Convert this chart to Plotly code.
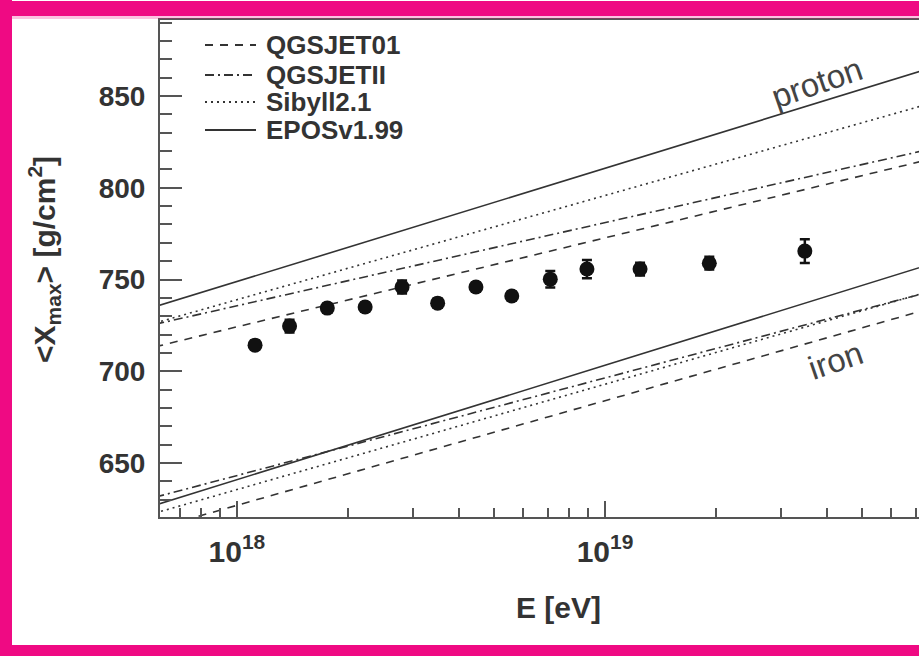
import plotly.graph_objects as go

# ---------------- data ----------------
energy_data = [1.12e18, 1.39e18, 1.76e18, 2.23e18, 2.81e18, 3.51e18, 4.46e18,
               5.58e18, 7.10e18, 8.93e18, 1.245e19, 1.92e19, 3.49e19]
xmax_data = [714.2, 724.6, 734.4, 735.0, 745.9, 737.1, 745.9,
             741.0, 750.2, 755.7, 755.7, 758.9, 765.5]
xmax_err = [2.5, 3.5, 2.5, 2.5, 3.5, 2.5, 2.5, 2.5, 4.5, 5.0, 3.5, 3.5, 6.5]

energy_model = [6.0e17, 1.0e18, 1.0e19, 7.5e19]
models = ["QGSJET01", "QGSJETII", "Sibyll2.1", "EPOSv1.99"]
proton = {
    "QGSJET01": [713.3, 724.2, 772.7, 815.2],
    "QGSJETII": [725.6, 735.7, 781.0, 820.7],
    "Sibyll2.1": [726.3, 739.0, 795.8, 845.5],
    "EPOSv1.99": [735.2, 748.9, 810.7, 864.7],
}
iron = {
    "QGSJET01": [614.2, 626.9, 683.9, 733.7],
    "QGSJETII": [631.3, 643.1, 696.3, 742.9],
    "Sibyll2.1": [622.7, 635.5, 692.9, 743.1],
    "EPOSv1.99": [627.0, 640.9, 703.2, 757.8],
}
dash_styles = {
    "QGSJET01": "8px,7px",
    "QGSJETII": "9px,4px,2px,4px",
    "Sibyll2.1": "2px,4px",
    "EPOSv1.99": "solid",
}
legend_rows_px = [45, 75, 102, 130]

INK = "#333333"
AXIS = "#555555"
PINK = "#ef0a83"
FONT = "Liberation Sans, Arial, sans-serif"

W, H = 919, 656
ML, MR, MT, MB = 160, 0, 20, 139


def px_to_paper_x(px):
    return (px - ML) / (W - ML - MR)


def px_to_paper_y(py):
    return (H - MB - py) / (H - MB - MT)


fig = go.Figure()

for m in models:
    for comp, vals in (("proton", proton[m]), ("iron", iron[m])):
        fig.add_trace(go.Scatter(
            x=energy_model, y=vals, mode="lines", name=f"{m} {comp}",
            showlegend=False,
            line=dict(color=INK, width=1.6, dash=dash_styles[m]),
        ))

fig.add_trace(go.Scatter(
    x=energy_data, y=xmax_data, mode="markers", showlegend=False,
    marker=dict(color="#111111", size=15, symbol="circle"),
    error_y=dict(type="data", array=xmax_err, color="#111111",
                 thickness=2.5, width=5),
))

fig.update_layout(
    width=W, height=H,
    margin=dict(l=ML, r=MR, t=MT, b=MB, pad=0),
    paper_bgcolor="white",
    plot_bgcolor="white",
    font=dict(family=FONT, color=INK),
    showlegend=False,
    xaxis=dict(
        type="log", range=[17.791, 19.853],
        showline=True, linecolor=AXIS, linewidth=2, mirror=True,
        showgrid=False, zeroline=False,
        dtick=1, exponentformat="power", showexponent="all",
        ticks="inside", ticklen=16, tickwidth=1.5, tickcolor=AXIS,
        minor=dict(ticks="inside", ticklen=9, tickwidth=1.5, tickcolor=AXIS, dtick="D1"),
        tickfont=dict(family=FONT, size=24, color=INK, weight="bold"),
        ticklabelstandoff=8,
    ),
    yaxis=dict(
        range=[620.5, 891.5],
        showline=True, linecolor=AXIS, linewidth=2, mirror=False,
        showgrid=False, zeroline=False,
        tick0=650, dtick=50,
        ticks="inside", ticklen=22, tickwidth=1.8, tickcolor=AXIS,
        minor=dict(ticks="inside", ticklen=12, tickwidth=1.5, tickcolor=AXIS, dtick=10),
        tickfont=dict(family=FONT, size=28, color=INK, weight="bold"),
        ticklabelstandoff=7,
    ),
)

# pink hand-drawn frame (top, left, bottom)
for (x0, x1, y0, y1) in [(0, 919, 1, 16), (0, 12, 0, 656), (0, 919, 645, 656)]:
    fig.add_shape(type="rect", xref="paper", yref="paper", layer="above",
                  x0=px_to_paper_x(x0), x1=px_to_paper_x(x1),
                  y0=px_to_paper_y(y1), y1=px_to_paper_y(y0),
                  fillcolor=PINK, line=dict(width=0))
fig.add_shape(type="rect", xref="paper", yref="paper", layer="above",
              x0=px_to_paper_x(12), x1=px_to_paper_x(919),
              y0=px_to_paper_y(19), y1=px_to_paper_y(16),
              fillcolor="rgba(239,10,131,0.25)", line=dict(width=0))

# legend (drawn manually to match the original spacing)
for m, row in zip(models, legend_rows_px):
    fig.add_shape(type="line", xref="paper", yref="paper", layer="above",
                  x0=px_to_paper_x(205), x1=px_to_paper_x(256),
                  y0=px_to_paper_y(row), y1=px_to_paper_y(row),
                  line=dict(color=INK, width=1.8, dash=dash_styles[m]))
    fig.add_annotation(x=px_to_paper_x(264), y=px_to_paper_y(row), xref="paper", yref="paper",
                       text=m, showarrow=False, xanchor="left", yanchor="middle",
                       font=dict(family=FONT, size=26, color=INK, weight="bold"))

fig.add_annotation(x=19.576, y=857.6, xref="x", yref="y", text="proton",
                   showarrow=False, textangle=-19,
                   font=dict(family=FONT, size=33, color="#444444"))
fig.add_annotation(x=19.625, y=706.0, xref="x", yref="y", text="iron",
                   showarrow=False, textangle=-19,
                   font=dict(family=FONT, size=33, color="#444444"))

fig.add_annotation(x=px_to_paper_x(44), y=px_to_paper_y(260), xref="paper", yref="paper",
                   text="&lt;X<sub>max</sub>&gt; [g/cm<sup>2</sup>]", showarrow=False,
                   textangle=-90, xanchor="center", yanchor="middle",
                   font=dict(family=FONT, size=30, color=INK, weight="bold"))
fig.add_annotation(x=px_to_paper_x(558), y=px_to_paper_y(607), xref="paper", yref="paper",
                   text="E [eV]", showarrow=False, xanchor="center", yanchor="middle",
                   font=dict(family=FONT, size=30, color=INK, weight="bold"))

fig.write_html("out.html")
